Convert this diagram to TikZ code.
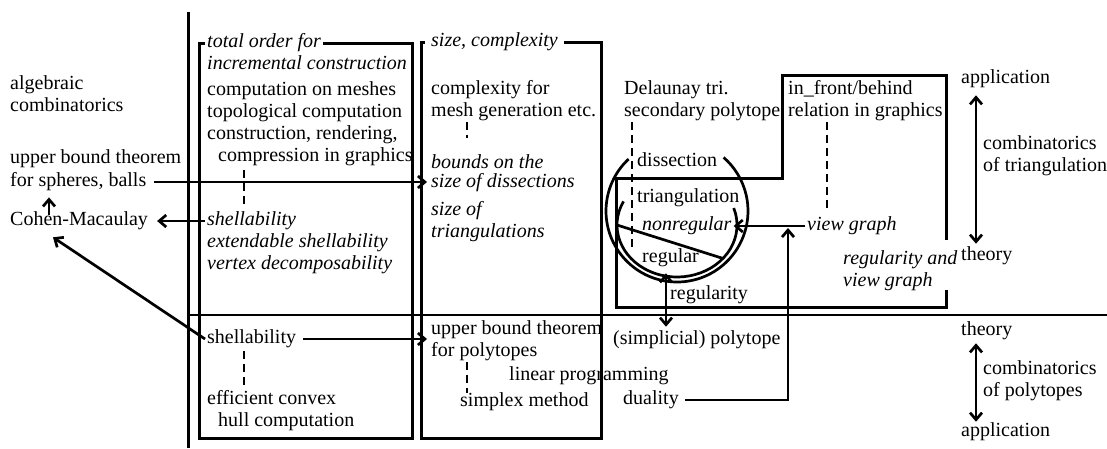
\documentclass[tikz,border=0pt]{standalone}
\usepackage{fontspec}
\setmainfont{Liberation Serif}
\usetikzlibrary{arrows.meta, calc}

\begin{document}
\begin{tikzpicture}[x=1pt, y=-1pt, >={Straight Barb[length=7pt,width=12pt]},
  font=\fontsize{20}{22}\selectfont,
  txt/.style={anchor=west, align=left, inner xsep=2pt, inner ysep=0pt},
  itx/.style={txt, font=\fontsize{20}{22}\selectfont\itshape},
  boxline/.style={line width=3pt},
  dashline/.style={line width=2.7pt, dash pattern=on 8pt off 5pt},
  arr/.style={->, line width=2.7pt}]
				\useasboundingbox (0,0) rectangle (1107,448);
				
				% frame and boxes
				\draw[boxline] (188,12) -- (188,448);
				\draw[line width=2.2pt] (188,315) -- (1107,315);
				\draw[boxline] (199,43) rectangle (412,438);
				\draw[boxline] (421,42) rectangle (601,438);
				\draw[boxline] (946,240) -- (946,75) -- (782,75) -- (782,178) -- (616,178) -- (616,307) -- (946,307) -- (946,290);
				
				% left column
				\node[txt] (alg) at (8,94) {algebraic\\combinatorics};
				\node[txt] (ubt) at (8,159) {upper bound theorem};
				\node[txt] (sph) at (8,182) {for spheres, balls};
				\node[txt] (cm) at (8,221) {Cohen-Macaulay};
				
				% first box
				\node[itx, fill=white] (tord) at (205,43) {total order for};
				\node[itx] (incr) at (205,63) {incremental construction};
				\node[txt] (comp) at (205,123.5) {computation on meshes\\topological computation\\construction, rendering,\\\hspace*{11pt}compression in graphics};
				\node[itx] (shl) at (205,221) {shellability};
				\node[itx] (ext) at (205,254) {extendable shellability\\vertex decomposability};
				\node[txt] (shp) at (205,339) {shellability};
				\node[txt] (eff) at (205,411) {efficient convex\\\hspace*{11pt}hull computation};
				
				% second box
				\node[itx, fill=white, inner xsep=6pt] (sizc) at (425,42) {size, complexity};
				\node[txt] (cmpx) at (429,101) {complexity for\\mesh generation etc.};
				\node[itx] (bnd) at (429,162) {bounds on the};
				\node[itx] (sdis) at (429,183) {size of dissections};
				\node[itx] (stri) at (429,222) {size of\\triangulations};
				\node[txt] (ubp) at (429,330) {upper bound theorem};
				\node[txt] (fpol) at (429,352) {for polytopes};
				\node[txt] (lp) at (507,376) {linear programming};
				\node[txt] (smp) at (458,402) {simplex method};
				
				% triangulations
				\node[txt] (del) at (622,101) {Delaunay tri.\\secondary polytope};
				\node[txt] (dis) at (635,160) {dissection};
				\node[txt] (tri) at (635,198) {triangulation};
				\node[itx] (nreg) at (640,226) {nonregular};
				\node[txt] (reg) at (640,258) {regular};
				\node[txt] (rgt) at (668,295) {regularity};
				\node[txt] (spol) at (611,340) {(simplicial) polytope};
				\node[txt] (dual) at (621,400) {duality};
				\node[txt] (inf) at (786,101) {in\_front/behind\\relation in graphics};
				\node[itx] (vg) at (805,226) {view graph};
				\node[itx] (rvg) at (841,271) {regularity and\\view graph};
				
				\coordinate (cbig) at (677,211);
				\coordinate (csml) at (677,225);
				\draw[line width=2.7pt] ($(cbig)+(227:71)$) arc[start angle=227, end angle=-49, radius=71];
				\draw[line width=2.7pt] ($(csml)+(207:60 and 52)$) arc[start angle=207, end angle=-19, x radius=60, y radius=52];
				\draw[line width=2.7pt] ($(csml)+(180:60 and 52)$) -- ($(csml)+(40:60 and 52)$);
				
				% right column
				\node[txt] (app1) at (959,79) {application};
				\node[txt] (cot) at (981,156) {combinatorics\\of triangulation};
				\node[txt] (th1) at (959,256) {theory};
				\node[txt] (th2) at (959,331) {theory};
				\node[txt] (cop) at (981,381) {combinatorics\\of polytopes};
				\node[txt] (app2) at (959,432) {application};
				
				% dashed links
				\draw[dashline] ($(comp.south west)+(39,4)$) -- ($(shl.north west)+(39,-8)$);
				\draw[dashline] ($(shp.south west)+(39,3)$) -- ($(eff.north west)+(39,-4)$);
				\draw[dashline] ($(cmpx.south west)+(38,1)$) -- ($(bnd.north west)+(38,-17)$);
				\draw[dashline] ($(fpol.south west)+(38,1)$) -- ($(smp.north west)+(9,0)$);
				\draw[dashline] ($(del.south west)+(10,1)$) -- ($(reg.north west)+(-8,-1)$);
				\draw[dashline] ($(inf.south west)+(41,1)$) -- ($(vg.north west)+(22,-9)$);
				
				% arrows
				\draw[arr, shorten <=6pt, shorten >=2pt] (sph.east) -- (sph.east -| sdis.west);
				\draw[arr, shorten >=7pt] (shl.west) -- (cm.east);
				\draw[arr] (shp.west) -- ($(cm.south west)+(45,7)$);
				\draw[arr] ($(cm.north west)+(41,3)$) -- ($(sph.south west)+(41,6)$);
				\draw[arr, shorten <=5pt, shorten >=2pt] (shp.east) -- (shp.east -| ubp.west);
				\draw[arr] (vg.west) -- (nreg.east);
				\draw[arr, shorten <=4pt] (dual.east) -| ($(vg.west)+(-17,2)$);
				\draw[arr, <->] ($(reg.south west)+(26,6)$) -- ($(spol.north west)+(55,-4)$);
				\draw[arr, <->] ($(app1.south west)+(17,7)$) -- ($(th1.north west)+(17,-3)$);
				\draw[arr, <->] ($(th2.south west)+(17,3)$) -- ($(app2.north west)+(17,-1)$);
			\end{tikzpicture}
\end{document}
